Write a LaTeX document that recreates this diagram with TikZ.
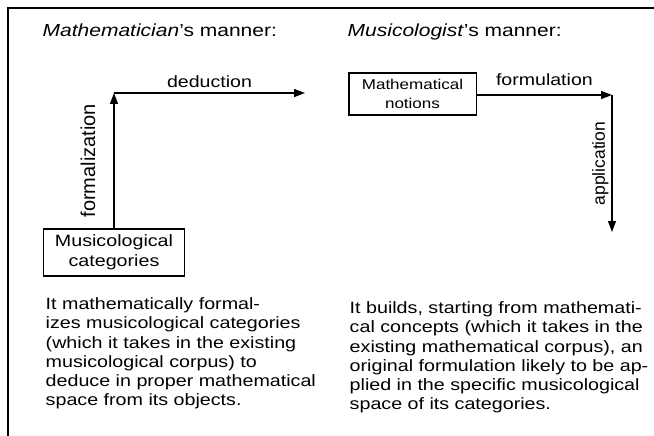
\documentclass[tikz,border=0pt]{standalone}
\usepackage{fontspec}
\setmainfont{Liberation Sans}
\usetikzlibrary{arrows.meta}
\begin{document}
\begin{tikzpicture}[x=1pt,y=-1pt,line width=1.2pt,
	>={Triangle[length=11pt,width=8pt]},
	% text of the figure is a bit wider than the font
	wide/.style={xscale=1.2,transform shape},
	head/.style={wide,font=\fontsize{17.5}{20}\selectfont,inner sep=0pt,anchor=base west},
	catbox/.style={wide,draw,align=center,inner sep=0pt},
	lbl/.style={wide,font=\fontsize{16.3}{19}\selectfont},
	vlbl/.style={rotate=90,anchor=south},
	body/.style={wide,font=\fontsize{16.4}{19.3}\selectfont,align=left,inner sep=0pt,anchor=north west}]
	\useasboundingbox (0,0) rectangle (654,436);
	% frame
	\draw (8,436)--(8,8)--(654,8);
	%
	\node[head] (h1) at (42,37) {\textit{Mathematician}’s manner:};
	\node[head] (h2) at (347,37) {\textit{Musicologist}’s manner:};
	% left side
	\node[catbox,minimum width=118pt,minimum height=47pt,font=\fontsize{16.4}{20}\selectfont] (cat) at (114,252.5) {Musicological\\categories};
	\coordinate (c1) at (114,93);
	\coordinate (e1) at (305,93);
	\draw[->] (cat.north)--(c1) node[midway,vlbl,inner sep=18pt,font=\fontsize{20}{22}\selectfont]{formalization};
	\draw[->] (c1)--(e1) node[midway,above,lbl,inner sep=5pt]{deduction};
	% right side
	\node[catbox,minimum width=106pt,minimum height=42pt,font=\fontsize{14.2}{18.5}\selectfont] (math) at (412.5,94) {Mathematical\\notions};
	\coordinate (c2) at (612,95);
	\coordinate (e2) at (612,232);
	\draw[->] (math.east|-c2)--(c2) node[midway,above,lbl,inner sep=9pt]{formulation};
	\draw[->] (c2)--(e2) node[midway,vlbl,inner sep=3pt,font=\fontsize{17.5}{20}\selectfont]{application};
	%
	\node[body] (t1) at (45,297) {It mathematically formal-\\izes musicological categories\\(which it takes in the existing\\musicological corpus) to\\deduce in proper mathematical\\space from its objects.};
	\node[body] (t2) at (349,301) {It builds, starting from mathemati-\\cal concepts (which it takes in the\\existing mathematical corpus), an\\original formulation likely to be ap-\\plied in the specific musicological\\space of its categories.};
\end{tikzpicture}
\end{document}
